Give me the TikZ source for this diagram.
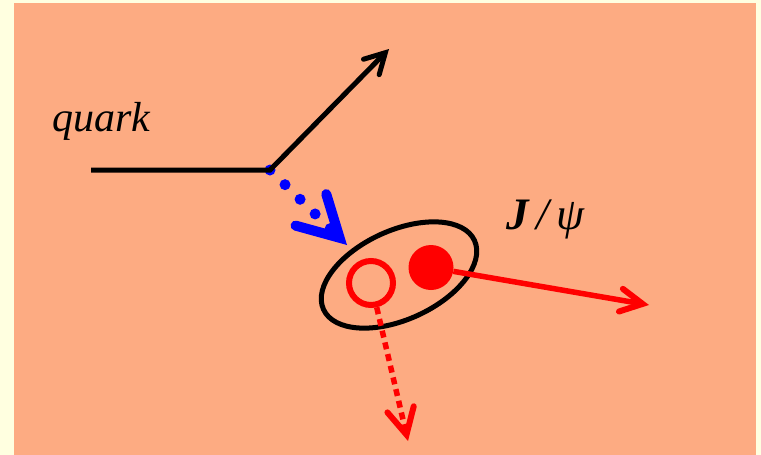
\documentclass[tikz,border=0pt]{standalone}
\usepackage{fontspec}
\setmainfont{Liberation Serif}
\usetikzlibrary{arrows.meta, positioning, shapes.geometric}
\definecolor{paper}{RGB}{255,255,224}
\definecolor{salmon}{RGB}{253,171,130}
\begin{document}
\begin{tikzpicture}[x=1pt, y=-1pt,
    lab/.style={font=\fontsize{42}{44}\selectfont\itshape, inner sep=0pt, anchor=base west},
    quarkln/.style={draw=black, line width=5pt, line join=miter,
        -{Straight Barb[length=20pt, width=22pt, line width=5pt, line cap=round, line join=miter]}},
    gluon/.style={draw=blue, line width=11pt, line cap=round, dash pattern=on 0pt off 21pt,
        -{Straight Barb[length=40pt, width=44pt, line width=10pt, line cap=round, line join=miter]}},
    muon/.style={draw=red, line width=5.5pt,
        -{Straight Barb[length=22pt, width=23pt, line width=6pt, line cap=round, line join=miter]}},
    muonb/.style={muon, dash pattern=on 7pt off 5pt,
        -{Straight Barb[length=26pt, width=27pt, line width=6pt, line cap=round, line join=miter]}},
    blob/.style={circle, inner sep=0pt, minimum size=45pt}
    ]
    % background
    \fill[paper] (0,0) rectangle (761,455);
    \fill[salmon] (14,3) rectangle (756,455);
    \useasboundingbox (0,0) rectangle (761,455);

    \coordinate (qa) at (91,170);
    \coordinate (v) at (270,170);
    \coordinate (qb) at (389,49);
    \coordinate (g) at (347,245);
    \coordinate (mu1) at (649,305);
    \coordinate (mu2) at (408,441);

    \node[lab] (qlab) at (52,131) {quark};
    \node[lab, font=\fontsize{45}{47}\selectfont\itshape] (plab) at (506,229)
        {\textbf{J}\hspace{8pt}/\hspace{7pt}ψ};

    \node[ellipse, draw, line width=5pt, minimum width=166pt, minimum height=89pt,
        inner sep=0pt, rotate=24.5] (pair) at (399,275) {};
    \node[blob, fill=red] (psi) at (431,267.5) {};
    \node[blob, draw=red, line width=6pt, minimum size=44pt] (psibar) at (371,283) {};

    % gluon and quark
    \draw[gluon] (v) -- (g);
    \draw[quarkln] (qa) -- (v) -- (qb);

    % decay products
    \draw[muon] (psi) -- (mu1);
    \draw[muonb] (psibar) -- (mu2);
\end{tikzpicture}
\end{document}
